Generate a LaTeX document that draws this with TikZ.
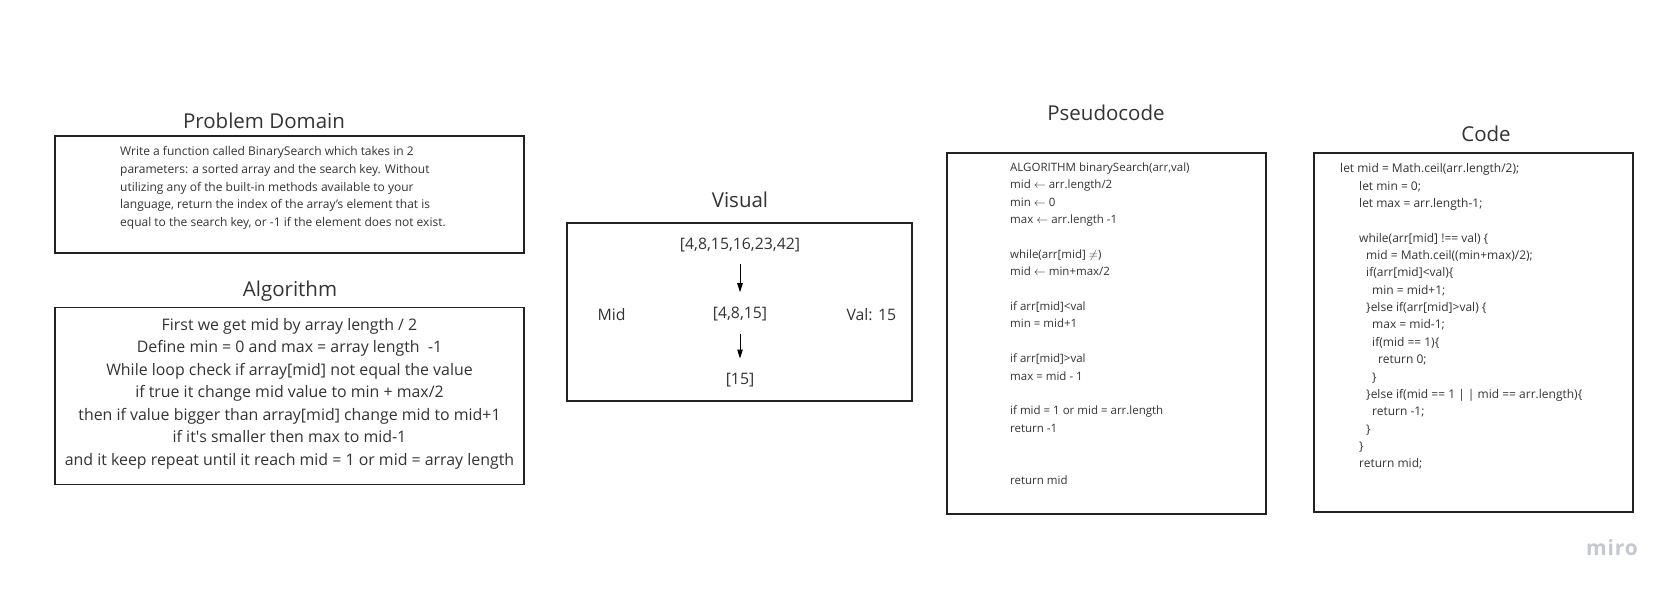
\documentclass[tikz,border=0pt]{standalone}
\usepackage{fontspec}
\setmainfont{Open Sans}
\usetikzlibrary{positioning,arrows.meta}

\definecolor{ink}{HTML}{333333}
\definecolor{frame}{HTML}{222222}
\definecolor{logo}{HTML}{C4C6D2}
\newcommand\ind[1]{\hspace*{#1pt}}

\begin{document}
\begin{tikzpicture}[x=1pt,y=-1pt,
  panel/.style={draw=frame,line width=1.4pt,inner sep=0pt},
  heading/.style={text=ink,font=\fontsize{20.5}{24}\selectfont},
  prose/.style={text=ink,inner sep=0pt},
  cell/.style={text=ink,inner sep=3pt,font=\fontsize{15.8}{19}\selectfont},
  flow/.style={-{Triangle[length=9pt,width=5.5pt]},line width=1pt,
    shorten <=9pt,shorten >=12pt}]

  \useasboundingbox (0,0) rectangle (1678,595);

  \def\hd{81pt}\def\vd{49pt}

  % frames
  \node[panel,minimum width=469pt,minimum height=117pt] (probbox) at (289.5,194.5) {};
  \node[panel,minimum width=469pt,minimum height=177pt] (algobox) at (289.5,396) {};
  \node[panel,minimum width=345pt,minimum height=178pt] (visbox) at (739.5,312) {};
  \node[panel,minimum width=319pt,minimum height=361pt] (pseudobox) at (1106.5,333.5) {};
  \node[panel,minimum width=319pt,minimum height=359pt] (codebox) at (1473.5,332.5) {};

  % headings
  \node[heading] (probtitle) at (264,121) {Problem Domain};
  \node[heading] (algotitle) at (290,291) {Algorithm};
  \node[heading] (vistitle) at (740,200) {Visual};
  \node[heading] (pseudotitle) at (1106,113) {Pseudocode};
  \node[heading] (codetitle) at (1486,134) {Code};

  % problem domain
  \node[prose,anchor=west,align=left,font=\fontsize{12}{17.8}\selectfont] (probtext) at (120,188)
    {Write a function called BinarySearch which takes in 2\\
     parameters: a sorted array and the search key. Without\\
     utilizing any of the built-in methods available to your\\
     language, return the index of the array’s element that is\\
     equal to the search key, or -1 if the element does not exist.};

  % algorithm
  \node[prose,align=center,font=\fontsize{15.9}{22.5}\selectfont] (algotext) at (289.5,393.5)
    {First we get mid by array length / 2\\
     Define min = 0 and max = array length\ \ -1\\
     While loop check if array[mid] not equal the value\\
     if true it change mid value to min + max/2\\
     then if value bigger than array[mid] change mid to mid+1\\
     if it\textquotesingle s smaller then max to mid-1\\
     and it keep repeat until it reach mid = 1 or mid = array length};

  % visual
  \node[cell] (full) at (740,245) {[4,8,15,16,23,42]};
  \node[cell,below=\vd of full] (half) {[4,8,15]};
  \node[cell,below=46pt of half] (quarter) {[15]};
  \node[cell,left=\hd of half] (midlbl) {Mid};
  \node[cell,right=73pt of half] (vallbl) {Val: 15};

  \draw[flow] (full) -- (half);
  \draw[flow] (half) -- (quarter);

  % pseudocode
  \node[prose,anchor=west,align=left,font=\fontsize{11.5}{17.4}\selectfont] (pseudotext) at (1010,323.6)
    {ALGORITHM binarySearch(arr,val)\\
     mid $\leftarrow$ arr.length/2\\
     min $\leftarrow$ 0\\
     max $\leftarrow$ arr.length -1\\[17.4pt]
     while(arr[mid] $\neq$)\\
     mid $\leftarrow$ min+max/2\\[17.4pt]
     if arr[mid]<val\\
     min = mid+1\\[17.4pt]
     if arr[mid]>val\\
     max = mid - 1\\[17.4pt]
     if mid = 1 or mid = arr.length\\
     return -1\\[34.8pt]
     return mid};

  % code
  \node[prose,anchor=west,align=left,font=\fontsize{12}{17.35}\selectfont] (codetext) at (1340,316.5)
    {let mid = Math.ceil(arr.length/2);\\
     \ind{19}let min = 0;\\
     \ind{19}let max = arr.length-1;\\[17.35pt]
     \ind{19}while(arr[mid] !== val) \{\\
     \ind{26}mid = Math.ceil((min+max)/2);\\
     \ind{26}if(arr[mid]<val)\{\\
     \ind{32}min = mid+1;\\
     \ind{26}\}else if(arr[mid]>val) \{\\
     \ind{32}max = mid-1;\\
     \ind{32}if(mid == 1)\{\\
     \ind{38}return 0;\\
     \ind{32}\}\\
     \ind{26}\}else if(mid == 1 | | mid == arr.length)\{\\
     \ind{32}return -1;\\
     \ind{26}\}\\
     \ind{19}\}\\
     \ind{19}return mid;};

  \node[text=logo,font=\fontsize{21}{21}\bfseries\addfontfeature{LetterSpace=4}] (brand) at (1612,548) {miro};

\end{tikzpicture}
\end{document}
